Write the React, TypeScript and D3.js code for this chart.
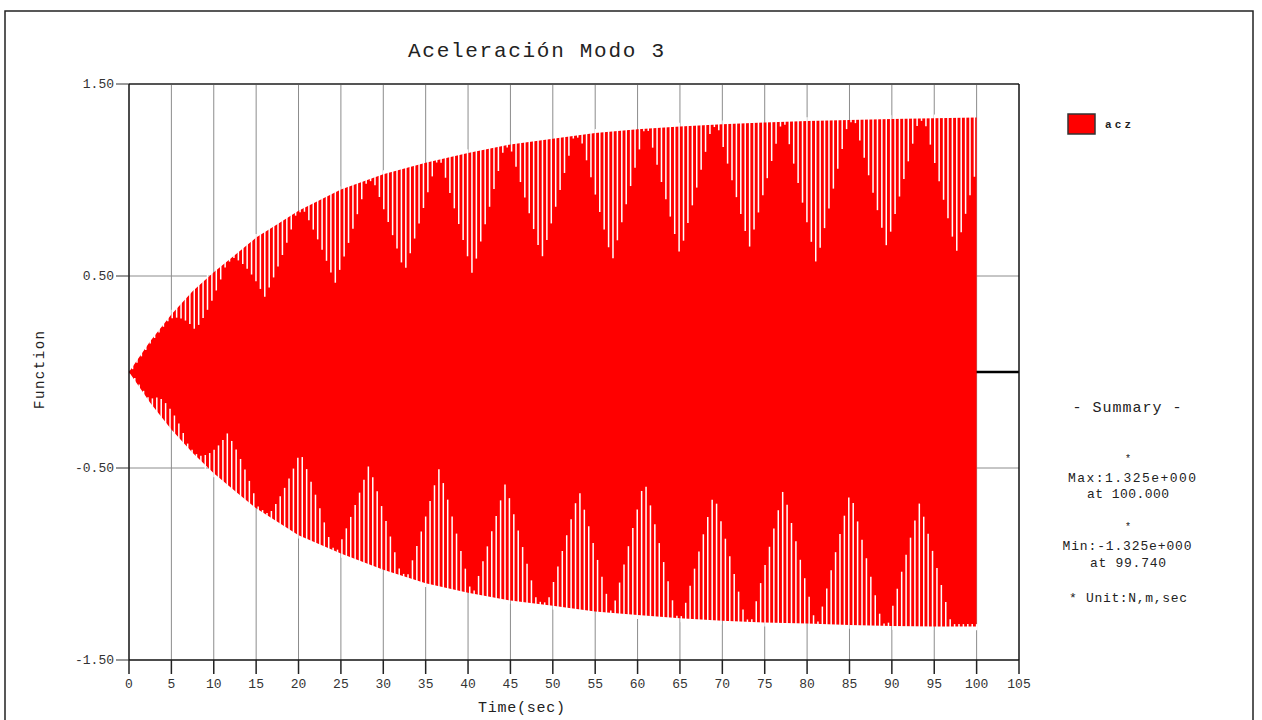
import React from 'react';
import * as d3 from 'd3';

// ---------- data ----------
const chartTitle = 'Aceleración Modo 3';
const seriesName = 'acz';
const xTicks = [0, 5, 10, 15, 20, 25, 30, 35, 40, 45, 50, 55, 60, 65, 70, 75, 80, 85, 90, 95, 100, 105];
const yTicks = [1.5, 0.5, -0.5, -1.5];
const yTickLabels = ['1.50', '0.50', '-0.50', '-1.50'];

// outer envelope of the oscillation (max / min reached), sampled along time
const envTime = [0, 2.5, 5, 7.5, 10, 12.5, 15, 17.5, 20, 25, 30, 35, 40, 45, 50, 55, 60, 65, 70, 75, 80, 85, 90, 95, 100];
const envMax = [0, 0.16, 0.3, 0.42, 0.52, 0.61, 0.7, 0.77, 0.84, 0.95, 1.03, 1.09, 1.14, 1.185, 1.215, 1.245, 1.264, 1.278, 1.29, 1.3, 1.307, 1.313, 1.318, 1.321, 1.325];
const envMin = [0, -0.16, -0.3, -0.42, -0.527, -0.62, -0.71, -0.78, -0.85, -0.945, -1.03, -1.1, -1.15, -1.19, -1.217, -1.248, -1.266, -1.283, -1.295, -1.305, -1.31, -1.318, -1.323, -1.325, -1.325];

// beat pattern: centres of the gap clusters and the value the red reaches there
const topClusterTime = [7.8, 16, 24.3, 32.5, 40.5, 48.7, 57, 65, 73.2, 81.1, 89.4, 97.6];
const topClusterTip = [0.22, 0.39, 0.46, 0.52, 0.51, 0.59, 0.575, 0.61, 0.65, 0.56, 0.65, 0.62];
const botClusterTime = [3.4, 11.6, 20.2, 28.3, 36.6, 44.4, 53.1, 60.8, 69, 77.2, 85.1, 93.3];
const botClusterTip = [-0.13, -0.32, -0.415, -0.484, -0.5, -0.58, -0.615, -0.56, -0.63, -0.61, -0.62, -0.675];
const clusterHalfWidth = 3.8; // seconds

// summary
const maxValue = 1.325;
const maxTime = 100.0;
const minValue = -1.325;
const minTime = 99.74;
const signalPeriod = 2 * (maxTime - minTime); // 0.52 s

// ---------- layout ----------
const W = 1262;
const H = 720;
const FONT = "'Liberation Mono', 'Courier New', monospace";

const x = d3.scaleLinear().domain([0, 105]).range([129, 1019]);
const y = d3.scaleLinear().domain([-1.5, 1.5]).range([660, 84]);

const outerMax = d3.scaleLinear().domain(envTime).range(envMax).clamp(true);
const outerMin = d3.scaleLinear().domain(envTime).range(envMin).clamp(true);

function innerValue(t: number, outer: number, times: number[], tips: number[]) {
  let frac = 0;
  let tip = outer;
  times.forEach((c, i) => {
    const f = Math.max(0, 1 - Math.abs(t - c) / clusterHalfWidth);
    if (f > frac) {
      frac = f;
      tip = tips[i];
    }
  });
  return outer - (outer - tip) * frac;
}

export default function App() {
  const area = d3
    .area<number>()
    .x((_, i) => x(envTime[i]))
    .y0((_, i) => y(envMin[i]))
    .y1((_, i) => y(envMax[i]))
    .curve(d3.curveLinear);

  const notch = 0.012;
  const topSpikes: { t: number; a: number; b: number }[] = [];
  for (let t = minTime; t > 0.3; t -= signalPeriod) {
    const o = outerMax(t);
    let inner = innerValue(t, o, topClusterTime, topClusterTip);
    inner = Math.min(inner, o - notch);
    topSpikes.push({ t, a: o + 0.02, b: inner });
  }
  const botSpikes: { t: number; a: number; b: number }[] = [];
  for (let t = maxTime; t > 0.3; t -= signalPeriod) {
    const o = outerMin(t);
    let inner = innerValue(t, o, botClusterTime, botClusterTip);
    inner = Math.max(inner, o + notch);
    botSpikes.push({ t, a: o - 0.02, b: inner });
  }

  const summaryX = 1128;

  return (
    <svg width={W} height={H} style={{ position: 'absolute', left: 0, top: 0, background: '#fff' }}>
      <rect x={0} y={0} width={W} height={H} fill="#fff" />
      {/* outer frame */}
      <rect x={5} y={11} width={1248} height={730} fill="none" stroke="#222" strokeWidth={1.5} />

      <text x={536} y={57} textAnchor="middle" fontFamily={FONT} fontSize={21} textLength={256} fill="#222">
        {chartTitle}
      </text>

      {/* grid */}
      {xTicks.slice(1, -1).map((t) => (
        <line key={'gx' + t} x1={x(t)} x2={x(t)} y1={y(1.5)} y2={y(-1.5)} stroke="#8c8c8c" strokeWidth={1} />
      ))}
      {yTicks.slice(1, -1).map((v) => (
        <line key={'gy' + v} x1={x(0)} x2={x(105)} y1={y(v)} y2={y(v)} stroke="#8c8c8c" strokeWidth={1} />
      ))}
      <line x1={x(0)} x2={x(105)} y1={y(0)} y2={y(0)} stroke="#000" strokeWidth={2.5} />

      {/* series */}
      <path d={area(envTime) || ''} fill="#ff0000" />
      {topSpikes.map((s, i) => (
        <line key={'ts' + i} x1={x(s.t)} x2={x(s.t)} y1={y(s.a)} y2={y(s.b)} stroke="#fff" strokeWidth={1.5} />
      ))}
      {botSpikes.map((s, i) => (
        <line key={'bs' + i} x1={x(s.t)} x2={x(s.t)} y1={y(s.a)} y2={y(s.b)} stroke="#fff" strokeWidth={1.5} />
      ))}

      {/* axes frame */}
      <line x1={x(0)} x2={x(105)} y1={y(1.5)} y2={y(1.5)} stroke="#555" strokeWidth={2} />
      <line x1={x(0)} x2={x(105)} y1={y(-1.5)} y2={y(-1.5)} stroke="#111" strokeWidth={1.5} />
      <line x1={x(0)} x2={x(0)} y1={y(1.5)} y2={y(-1.5)} stroke="#111" strokeWidth={1.5} />
      <line x1={x(105)} x2={x(105)} y1={y(1.5)} y2={y(-1.5)} stroke="#111" strokeWidth={1.5} />

      {/* y ticks */}
      {yTicks.map((v, i) => (
        <g key={'yt' + v}>
          <line x1={x(0) - 13} x2={x(0)} y1={y(v)} y2={y(v)} stroke="#333" strokeWidth={1} />
          <text x={x(0) - 15} y={y(v) + 4} textAnchor="end" fontFamily={FONT} fontSize={13} fill="#333">
            {yTickLabels[i]}
          </text>
        </g>
      ))}

      {/* x ticks */}
      {xTicks.map((t) => (
        <g key={'xt' + t}>
          <line x1={x(t)} x2={x(t)} y1={y(-1.5)} y2={y(-1.5) + 14} stroke="#222" strokeWidth={1.5} />
          <text x={x(t)} y={688} textAnchor="middle" fontFamily={FONT} fontSize={13} fill="#333">
            {String(t)}
          </text>
        </g>
      ))}

      <text x={521.5} y={712} textAnchor="middle" fontFamily={FONT} fontSize={15} textLength={87} fill="#222">
        Time(sec)
      </text>
      <text
        transform="translate(44,370) rotate(-90)"
        textAnchor="middle"
        fontFamily={FONT}
        fontSize={14}
        textLength={78}
        fill="#222"
      >
        Function
      </text>

      {/* legend */}
      <rect x={1068} y={114} width={27} height={20} fill="#ff0000" stroke="#333" strokeWidth={1.5} />
      <text x={1105} y={128} fontFamily={FONT} fontSize={11} fontWeight="bold" textLength={26} fill="#222">
        {seriesName}
      </text>

      {/* summary */}
      <text x={summaryX - 1} y={412} textAnchor="middle" fontFamily={FONT} fontSize={15} textLength={109} fill="#222">
        - Summary -
      </text>
      <text x={summaryX} y={462} textAnchor="middle" fontFamily={FONT} fontSize={10} fill="#222">*</text>
      <text x={summaryX + 4} y={482} textAnchor="middle" fontFamily={FONT} fontSize={13} textLength={128} fill="#222">
        {`Max:${maxValue.toFixed(3)}e+000`}
      </text>
      <text x={summaryX} y={498} textAnchor="middle" fontFamily={FONT} fontSize={13} textLength={82} fill="#222">
        {`at ${maxTime.toFixed(3)}`}
      </text>
      <text x={summaryX} y={530} textAnchor="middle" fontFamily={FONT} fontSize={10} fill="#222">*</text>
      <text x={summaryX - 1} y={550} textAnchor="middle" fontFamily={FONT} fontSize={13} textLength={129} fill="#222">
        {`Min:${minValue.toFixed(3)}e+000`}
      </text>
      <text x={summaryX} y={567} textAnchor="middle" fontFamily={FONT} fontSize={13} textLength={76} fill="#222">
        {`at ${minTime.toFixed(3)}`}
      </text>
      <text x={summaryX} y={602} textAnchor="middle" fontFamily={FONT} fontSize={13} textLength={118} fill="#222">
        * Unit:N,m,sec
      </text>
    </svg>
  );
}
